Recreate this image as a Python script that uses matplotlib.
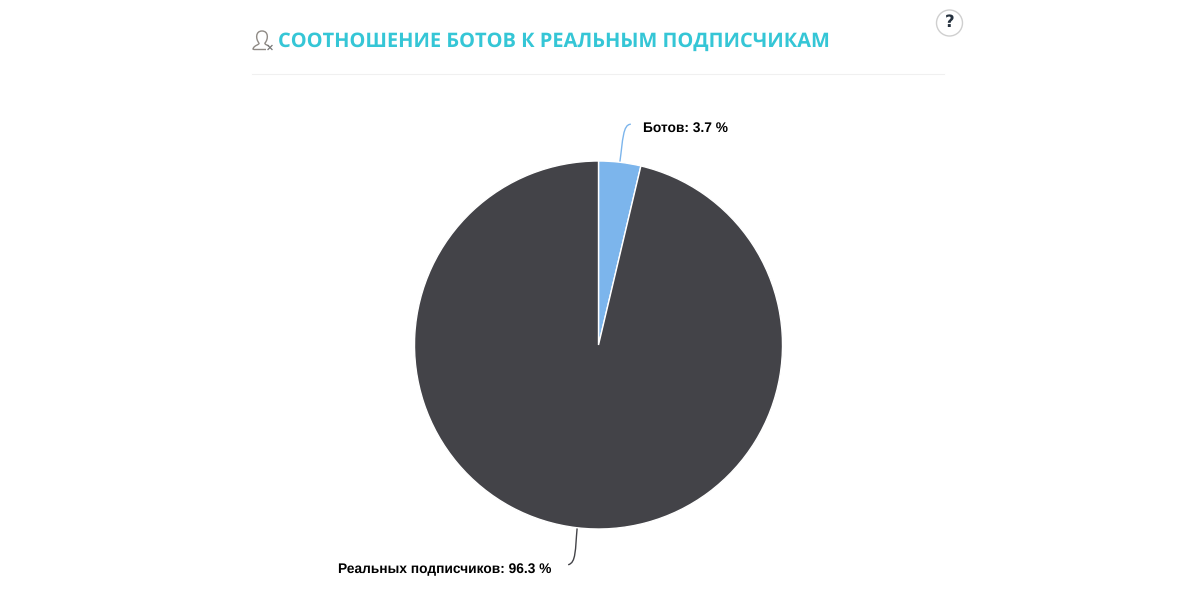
import numpy as np
import matplotlib

matplotlib.use("agg")
import matplotlib.pyplot as plt
from matplotlib.patches import Circle, PathPatch
from matplotlib.path import Path

plt.rcParams["text.hinting"] = "no_hinting"

title = "СООТНОШЕНИЕ БОТОВ К РЕАЛЬНЫМ ПОДПИСЧИКАМ"
labels = ["Ботов", "Реальных подписчиков"]
values = [3.7, 96.3]
colors = ["#7cb5ec", "#434348"]

CX, CY, R = 598.5, 345, 184

fig = plt.figure(figsize=(12, 6), dpi=100)

# overlay in pixel coords, y going down
bg = fig.add_axes([0, 0, 1, 1])
bg.set_xlim(0, 1200)
bg.set_ylim(600, 0)
bg.axis("off")

bg.text(278, 41.5, title, family="Open Sans", fontweight="bold", fontsize=14.45,
        color="#35c6d6", va="center", ha="left")
bg.plot([252, 944], [74, 74], color="#f0f0f0", lw=0.8)

# user icon
icon = "#8f8a85"
C4 = Path.CURVE4
outline = Path([(259, 43), (255.5, 39), (255.5, 31), (262, 31), (268.5, 31), (268.5, 39), (265, 43),
                (264.5, 44.5), (267, 45), (269, 46)],
               [Path.MOVETO, C4, C4, C4, C4, C4, C4, C4, C4, C4])
bg.add_patch(PathPatch(outline, fill=False, ec=icon, lw=1))
base = Path([(259, 43), (259.5, 45), (254, 45), (253, 49), (254, 49.5), (266, 49.5)],
            [Path.MOVETO, C4, C4, C4, Path.LINETO, Path.LINETO])
bg.add_patch(PathPatch(base, fill=False, ec=icon, lw=1))
bg.plot([268, 272], [45.5, 49.5], color="#777777", lw=0.9)
bg.plot([272, 268], [45.5, 49.5], color="#777777", lw=0.9)

# help button
bg.add_patch(Circle((949.5, 23), 13, fc="white", ec="#cfcfcf", lw=1))
bg.text(950, 22.5, "?", family="DejaVu Sans", fontweight="bold", fontsize=12,
        color="#26323f", va="center", ha="center")

pie_ax = fig.add_axes([(CX - R) / 1200, 1 - (CY + R) / 600, 2 * R / 1200, 2 * R / 600])
pie_ax.pie(values, colors=colors, startangle=90, counterclock=False, radius=1,
           wedgeprops={"edgecolor": "white", "linewidth": 1})
pie_ax.set_xlim(-1, 1)
pie_ax.set_ylim(-1, 1)

# leaders start on the rim at each slice's middle angle
total = sum(values)
mids = np.cumsum(values) - np.array(values) / 2
angles = np.radians(mids / total * 360)
x0, y0 = CX + R * np.sin(angles[0]), CY - R * np.cos(angles[0])
x1, y1 = CX + R * np.sin(angles[1]), CY - R * np.cos(angles[1])

curve = [Path.MOVETO, Path.CURVE4, Path.CURVE4, Path.CURVE4]
p = Path([(x0, y0), (x0 + 3, y0 - 22), (x0 + 3, y0 - 38), (x0 + 11, y0 - 38)], curve)
bg.add_patch(PathPatch(p, fill=False, ec=colors[0], lw=1))
p = Path([(x1, y1), (x1 - 2, y1 + 22), (x1 - 1, y1 + 35), (x1 - 9, y1 + 37)], curve)
bg.add_patch(PathPatch(p, fill=False, ec=colors[1], lw=1))

bg.text(643, 128.5, "{}: {} %".format(labels[0], values[0]), family="Liberation Sans",
        fontweight="bold", fontsize=9.9, color="black", va="center", ha="left")
bg.text(338, 569.5, "{}: {} %".format(labels[1], values[1]), family="Liberation Sans",
        fontweight="bold", fontsize=9.9, color="black", va="center", ha="left")

fig.savefig("out.png", dpi=100)
